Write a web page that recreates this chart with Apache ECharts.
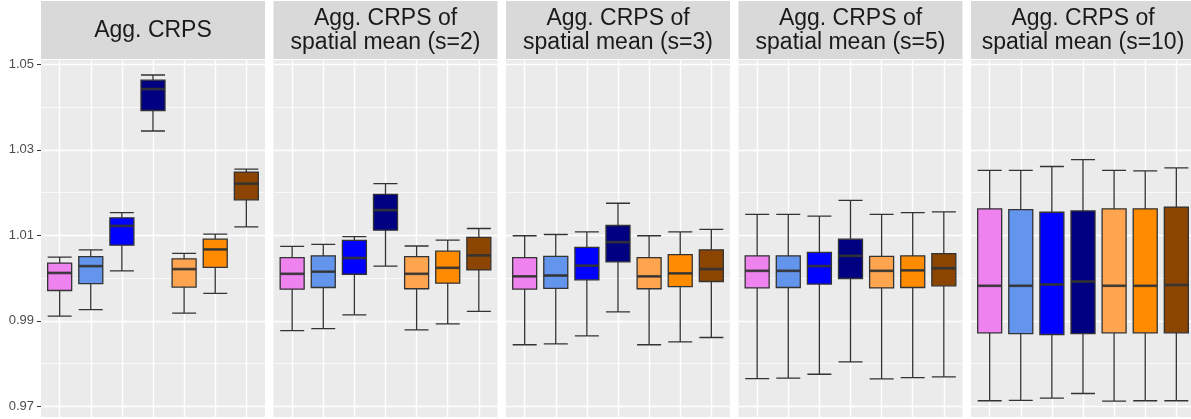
<!DOCTYPE html>
<html><head><meta charset="utf-8">
<script src="https://cdn.jsdelivr.net/npm/echarts@6/dist/echarts.min.js"></script>
<style>html,body{margin:0;padding:0;background:#fff}#c{width:1191px;height:419px}</style>
</head><body><div id="c"></div>
<script>
// ---- data ----
const facetTitles = [
  'Agg. CRPS',
  'Agg. CRPS of\nspatial mean (s=2)',
  'Agg. CRPS of\nspatial mean (s=3)',
  'Agg. CRPS of\nspatial mean (s=5)',
  'Agg. CRPS of\nspatial mean (s=10)'
];
const methods = ['M1', 'M2', 'M3', 'M4', 'M5', 'M6', 'M7'];
const methodColors = ['#EE82EE', '#6495ED', '#0000FF', '#000080', '#FFA54F', '#FF8C00', '#8B4500'];
const yTickLabels = ['0.97', '0.99', '1.01', '1.03', '1.05'];
// each box: [lower whisker, Q1, median, Q3, upper whisker]
const aggCrps = [
  [0.9911, 0.9971, 1.0012, 1.0035, 1.0049],
  [0.9926, 0.9987, 1.0028, 1.0050, 1.0066],
  [1.0017, 1.0077, 1.0122, 1.0141, 1.0153],
  [1.0344, 1.0392, 1.0442, 1.0463, 1.0475],
  [0.9918, 0.9979, 1.0021, 1.0045, 1.0058],
  [0.9964, 1.0025, 1.0067, 1.0091, 1.0103],
  [1.0120, 1.0183, 1.0221, 1.0248, 1.0255]
];
const spatialS2 = [
  [0.9877, 0.9974, 1.0010, 1.0048, 1.0074],
  [0.9882, 0.9978, 1.0015, 1.0052, 1.0079],
  [0.9914, 1.0009, 1.0047, 1.0088, 1.0097],
  [1.0028, 1.0112, 1.0159, 1.0196, 1.0221],
  [0.9879, 0.9975, 1.0010, 1.0050, 1.0075],
  [0.9893, 0.9988, 1.0024, 1.0063, 1.0089],
  [0.9922, 1.0019, 1.0053, 1.0095, 1.0116]
];
const spatialS3 = [
  [0.9844, 0.9974, 1.0004, 1.0048, 1.0099],
  [0.9846, 0.9976, 1.0006, 1.0051, 1.0102],
  [0.9865, 0.9996, 1.0029, 1.0072, 1.0108],
  [0.9921, 1.0038, 1.0084, 1.0123, 1.0175],
  [0.9844, 0.9975, 1.0004, 1.0048, 1.0099],
  [0.9851, 0.9980, 1.0011, 1.0055, 1.0108],
  [0.9861, 0.9992, 1.0021, 1.0066, 1.0114]
];
const spatialS5 = [
  [0.9765, 0.9977, 1.0017, 1.0052, 1.0149],
  [0.9766, 0.9978, 1.0017, 1.0052, 1.0149],
  [0.9775, 0.9986, 1.0028, 1.0060, 1.0145],
  [0.9804, 0.9999, 1.0052, 1.0091, 1.0182],
  [0.9764, 0.9977, 1.0017, 1.0051, 1.0149],
  [0.9767, 0.9978, 1.0018, 1.0052, 1.0153],
  [0.9769, 0.9982, 1.0023, 1.0057, 1.0155]
];
const spatialS10 = [
  [0.9713, 0.9872, 0.9982, 1.0162, 1.0252],
  [0.9714, 0.9870, 0.9982, 1.0160, 1.0252],
  [0.9719, 0.9868, 0.9985, 1.0154, 1.0261],
  [0.9730, 0.9870, 0.9992, 1.0157, 1.0277],
  [0.9712, 0.9872, 0.9982, 1.0162, 1.0252],
  [0.9713, 0.9872, 0.9982, 1.0162, 1.0251],
  [0.9713, 0.9872, 0.9984, 1.0166, 1.0258]
];
const panels = [aggCrps, spatialS2, spatialS3, spatialS5, spatialS10];

// ---- layout ----
const PX_PER_UNIT = 4275;
const TICK_MIN = 0.97, TICK_MAX = 1.05, TICK_INT = 0.02;
const yTickTop = 64.33;                         // pixel row of 1.05
const yTickH = (TICK_MAX - TICK_MIN) * PX_PER_UNIT;
const panelTop = 60, panelBottom = 417, panelH = panelBottom - panelTop;
const dataMax = TICK_MAX + (yTickTop - panelTop) / PX_PER_UNIT;
const dataMin = TICK_MAX - (panelBottom - yTickTop) / PX_PER_UNIT;
const panelW = 224, panelPitch = 232.5, firstLeft = 41;
const band = panelW / 7.2;

const grid = [], xAxis = [], yAxis = [], series = [], graphic = [];

panels.forEach((boxes, i) => {
  const L = firstLeft + i * panelPitch;
  const g0 = 3 * i, g1 = 3 * i + 1, g2 = 3 * i + 2;
  // panel background
  grid.push({left: L, top: panelTop, width: panelW, height: panelH, show: true,
    backgroundColor: '#EBEBEB', borderWidth: 0});
  xAxis.push({type: 'value', gridIndex: g0, min: 0, max: 1, show: false});
  yAxis.push({type: 'value', gridIndex: g0, min: 0, max: 1, show: false});
  // horizontal gridlines + y labels
  grid.push({left: L, top: yTickTop, width: panelW, height: yTickH, show: false});
  xAxis.push({type: 'value', gridIndex: g1, min: 0, max: 1, show: false});
  yAxis.push({type: 'value', gridIndex: g1, min: TICK_MIN, max: TICK_MAX, interval: TICK_INT,
    axisLine: {show: false},
    axisTick: {show: i === 0, length: 4, lineStyle: {color: '#333333', width: 1}},
    axisLabel: {show: i === 0, color: '#4D4D4D', fontSize: 13, margin: 7,
      fontFamily: 'Liberation Sans',
      formatter: v => { const s = v.toFixed(2); return yTickLabels.includes(s) ? s : ''; }},
    splitLine: {show: true, lineStyle: {color: '#FFFFFF', width: 1.4}},
    minorTick: {show: false, splitNumber: 2},
    minorSplitLine: {show: true, lineStyle: {color: '#FFFFFF', width: 0.7}}
  });
  // data grid (category positions)
  grid.push({left: L + 0.6 * band, top: panelTop, width: 6 * band, height: panelH, show: false});
  xAxis.push({type: 'category', gridIndex: g2, data: methods, boundaryGap: false,
    axisLine: {show: false}, axisTick: {show: false}, axisLabel: {show: false},
    splitLine: {show: true, lineStyle: {color: '#FFFFFF', width: 1.4}}});
  yAxis.push({type: 'value', gridIndex: g2, min: dataMin, max: dataMax, show: false});

  series.push({
    type: 'boxplot', xAxisIndex: g2, yAxisIndex: g2,
    boxWidth: [24, 24], silent: true,
    itemStyle: {borderColor: '#333333', borderWidth: 1.3},
    data: boxes.map((b, k) => ({value: b, itemStyle: {color: methodColors[k], borderColor: '#333333', borderWidth: 1.3}}))
  });
  series.push({
    type: 'scatter', xAxisIndex: g2, yAxisIndex: g2,
    symbol: 'rect', symbolSize: [24, 2.7], silent: true,
    itemStyle: {color: '#333333'},
    data: boxes.map((b, k) => [methods[k], b[2]])
  });

  // strip
  graphic.push({type: 'rect', z: 60, silent: true,
    shape: {x: L, y: 1, width: panelW, height: 58}, style: {fill: '#D9D9D9'}});
  graphic.push({type: 'text', z: 61, silent: true, x: L + panelW / 2, y: 30.5,
    style: {text: facetTitles[i], align: 'center', verticalAlign: 'middle',
      fontSize: 23, fontFamily: 'Liberation Sans', fill: '#1A1A1A', lineHeight: 23.5}});
});

const chart = echarts.init(document.getElementById('c'), null, {renderer: 'canvas'});
chart.setOption({animation: false, grid, xAxis, yAxis, series, graphic});
</script>
</body></html>
